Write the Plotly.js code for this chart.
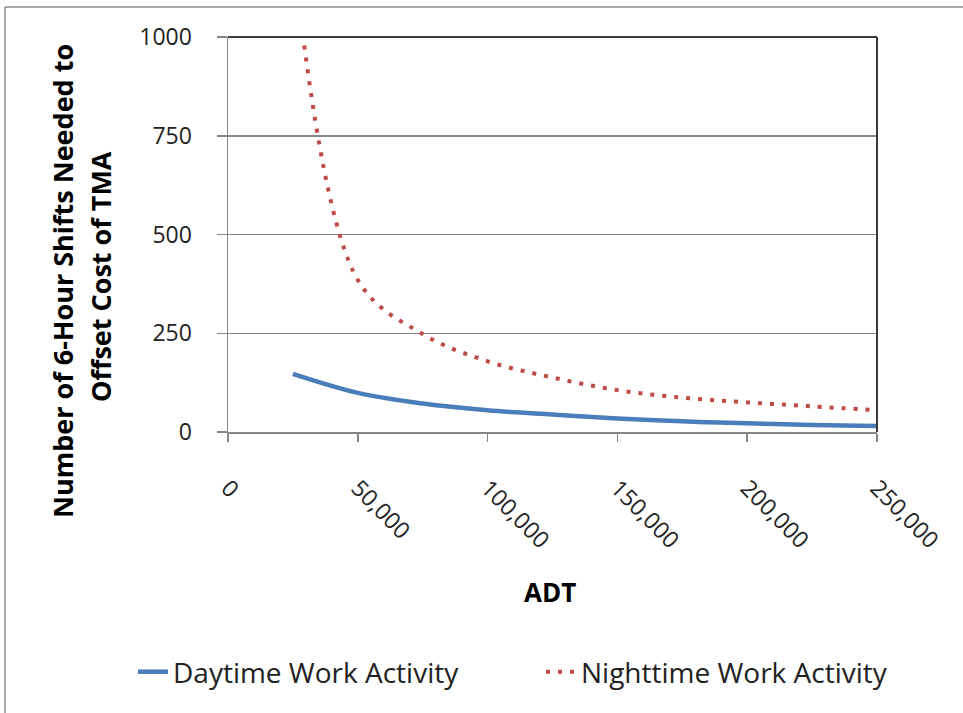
<!DOCTYPE html>
<html>
<head>
<meta charset="utf-8">
<script src="https://cdn.plot.ly/plotly-3.0.1.min.js"></script>
<style>html,body{margin:0;padding:0;background:#fff;}#chart{width:963px;height:713px;}</style>
</head>
<body>
<div id="chart"></div>
<script>
const adt = [25000, 50000, 75000, 100000, 125000, 150000, 175000, 200000, 225000, 250000];
const daytime = [147, 99, 72, 55, 44, 34, 27, 22, 18, 15];
const nighttime = [1220, 385, 248, 179, 138, 106, 87, 75, 65, 55];
const xTicks = [0, 50000, 100000, 150000, 200000, 250000];
const xTickLabels = ['0', '50,000', '100,000', '150,000', '200,000', '250,000'];
const yTicks = [0, 250, 500, 750, 1000];
const seriesNames = ['Daytime Work Activity', 'Nighttime Work Activity'];
const yTitleLines = ['Number of 6-Hour Shifts Needed to', 'Offset Cost of TMA'];
const xTitle = 'ADT';

const W = 963, H = 713;
const L = 228, R = 86, T = 37, B = 281;
const pw = W - L - R, ph = H - T - B;
const px = v => (v - L) / pw;
const py = v => (H - B - v) / ph;

const font = '"Open Sans", "DejaVu Sans", sans-serif';

const data = [
  {x: adt, y: daytime, name: seriesNames[0], type: 'scatter', mode: 'lines', legend: 'legend',
   line: {color: '#4A7EBB', width: 4.5, shape: 'spline', smoothing: 1}},
  {x: adt, y: nighttime, name: seriesNames[1], type: 'scatter', mode: 'lines', legend: 'legend2',
   line: {color: '#BE4B48', width: 4, dash: '4px,8px', shape: 'spline', smoothing: 1}}
];

const legendFont = {size: 28, family: font, color: '#222'};

const layout = {
  width: W, height: H,
  margin: {l: L, r: R, t: T, b: B, autoexpand: false},
  paper_bgcolor: '#fff', plot_bgcolor: '#fff',
  font: {family: font, color: '#222'},
  showlegend: true,
  legend: {orientation: 'h', x: px(133), xanchor: 'left', y: py(672), yanchor: 'middle',
           font: legendFont, bgcolor: 'rgba(0,0,0,0)'},
  legend2: {orientation: 'h', x: px(541), xanchor: 'left', y: py(672), yanchor: 'middle',
           font: legendFont, bgcolor: 'rgba(0,0,0,0)'},
  xaxis: {range: [0, 250000], tickvals: xTicks, ticktext: xTickLabels, tickangle: 45,
          tickfont: {size: 23, family: font, color: '#222'},
          ticks: 'outside', ticklen: 8, tickcolor: '#868686', tickwidth: 1.5,
          showline: true, linecolor: '#868686', linewidth: 1.5,
          showgrid: false, zeroline: false, ticklabelstandoff: 24, automargin: false,
          title: {text: ''}},
  yaxis: {range: [0, 1000], tickvals: yTicks, ticks: 'outside', ticklen: 10, tickcolor: '#868686', tickwidth: 1.5,
          tickfont: {size: 23, family: font, color: '#222'},
          showline: true, linecolor: '#868686', linewidth: 1.5,
          showgrid: true, gridcolor: '#868686', gridwidth: 1.5, zeroline: false, automargin: false,
          ticklabelstandoff: 20, title: {text: ''}},
  annotations: [
    {text: '<b>' + yTitleLines[0] + '</b>', xref: 'paper', yref: 'paper', x: px(62), y: py(281),
     textangle: -90, showarrow: false, xanchor: 'center', yanchor: 'middle',
     font: {size: 27, family: font, color: '#000'}},
    {text: '<b>' + yTitleLines[1] + '</b>', xref: 'paper', yref: 'paper', x: px(100), y: py(277),
     textangle: -90, showarrow: false, xanchor: 'center', yanchor: 'middle',
     font: {size: 27, family: font, color: '#000'}},
    {text: '<b>' + xTitle + '</b>', xref: 'paper', yref: 'paper', x: px(550), y: py(592),
     showarrow: false, xanchor: 'center', yanchor: 'middle',
     font: {size: 26, family: font, color: '#000'}}
  ],
  shapes: [
    {type: 'line', xref: 'paper', yref: 'paper', x0: 0, x1: 1, y0: 1, y1: 1, line: {color: '#3a3a3a', width: 2}},
    {type: 'line', xref: 'paper', yref: 'paper', x0: 1, x1: 1, y0: 0, y1: 1, line: {color: '#3a3a3a', width: 2}},
    {type: 'line', xref: 'paper', yref: 'paper', x0: px(5), x1: px(975), y0: py(7), y1: py(7), line: {color: '#8c8c8c', width: 1.5}},
    {type: 'line', xref: 'paper', yref: 'paper', x0: px(5), x1: px(5), y0: py(7), y1: py(725), line: {color: '#8c8c8c', width: 1.5}}
  ]
};

Plotly.newPlot('chart', data, layout, {displayModeBar: false, staticPlot: true});
</script>
</body>
</html>
